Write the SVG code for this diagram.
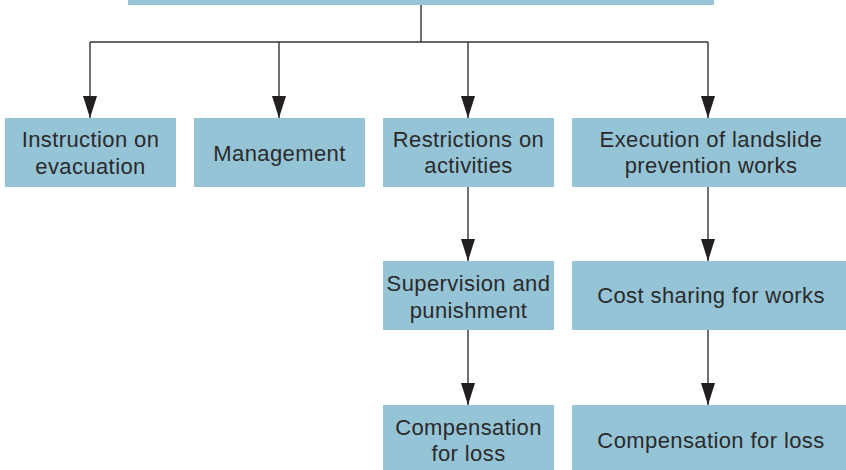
<svg xmlns="http://www.w3.org/2000/svg" width="846" height="470" viewBox="0 0 846 470">
  <style>
    .box { fill: #96c4d7; }
    .lbl { font-family: "Liberation Sans", Arial, sans-serif; font-size: 22px; letter-spacing: 0.4px; fill: #2a2a2a; text-anchor: middle; }
    .edge { fill: none; stroke: #333333; stroke-width: 1.4; }
  </style>
  <defs>
    <!-- arrowhead drawn along +x; tip sits on the end of the line -->
    <marker id="arrow" markerUnits="userSpaceOnUse" markerWidth="22" markerHeight="14" refX="22" refY="7" orient="auto" viewBox="0 0 22 14">
      <path d="M0,0 L22,7 L0,14 Z" fill="#231f20"/>
    </marker>
  </defs>

  <g id="root">
    <rect class="box" x="128" y="-10" width="586" height="15"/>
  </g>

  <g id="connectors">
    <path class="edge" d="M421,5 V42"/>
    <path class="edge" d="M90,42 H708"/>
    <path class="edge" d="M90,42 V118" marker-end="url(#arrow)"/>
    <path class="edge" d="M279,42 V118" marker-end="url(#arrow)"/>
    <path class="edge" d="M468,42 V118" marker-end="url(#arrow)"/>
    <path class="edge" d="M708,42 V118" marker-end="url(#arrow)"/>
    <path class="edge" d="M468,187 V261" marker-end="url(#arrow)"/>
    <path class="edge" d="M708,187 V261" marker-end="url(#arrow)"/>
    <path class="edge" d="M468,330 V405" marker-end="url(#arrow)"/>
    <path class="edge" d="M708,330 V405" marker-end="url(#arrow)"/>
  </g>

  <g id="evacuation">
    <rect class="box" x="5" y="118" width="171" height="69"/>
    <text class="lbl" x="90.5" y="146.7">Instruction on</text>
    <text class="lbl" x="90.5" y="174.3">evacuation</text>
  </g>

  <g id="management">
    <rect class="box" x="194" y="118" width="171" height="69"/>
    <text class="lbl" x="279.5" y="161">Management</text>
  </g>

  <g id="restrictions">
    <rect class="box" x="383" y="118" width="171" height="69"/>
    <text class="lbl" x="468.5" y="146.7">Restrictions on</text>
    <text class="lbl" x="468.5" y="173.3">activities</text>
  </g>

  <g id="execution">
    <rect class="box" x="572" y="118" width="274" height="69"/>
    <text class="lbl" x="711" y="146.7">Execution of landslide</text>
    <text class="lbl" x="711" y="173.3">prevention works</text>
  </g>

  <g id="supervision">
    <rect class="box" x="383" y="261" width="171" height="69"/>
    <text class="lbl" x="468.5" y="290.7">Supervision and</text>
    <text class="lbl" x="468.5" y="318.3">punishment</text>
  </g>

  <g id="cost-sharing">
    <rect class="box" x="572" y="261" width="274" height="69"/>
    <text class="lbl" x="711" y="303.3">Cost sharing for works</text>
  </g>

  <g id="compensation-a">
    <rect class="box" x="383" y="405" width="171" height="65"/>
    <text class="lbl" x="468.5" y="435">Compensation</text>
    <text class="lbl" x="468.5" y="460.7">for loss</text>
  </g>

  <g id="compensation-b">
    <rect class="box" x="572" y="405" width="274" height="65"/>
    <text class="lbl" x="711" y="448.3">Compensation for loss</text>
  </g>
</svg>
